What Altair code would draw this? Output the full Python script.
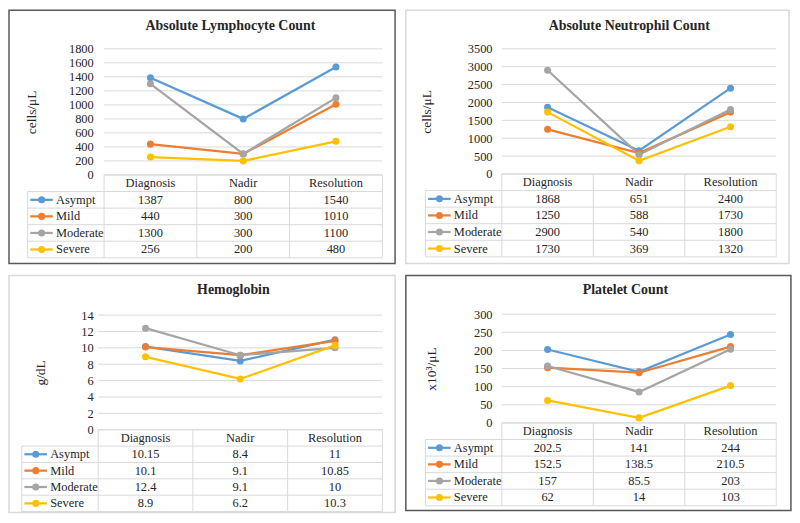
import altair as alt
import pandas as pd

# ---------------- data ----------------
categories = ["Diagnosis", "Nadir", "Resolution"]
groups = ["Asympt", "Mild", "Moderate", "Severe"]
group_colors = ["#5B9BD5", "#ED7D31", "#A5A5A5", "#FFC000"]

lymph_values = [[1387, 800, 1540], [440, 300, 1010], [1300, 300, 1100], [256, 200, 480]]
lymph_ticks = [0, 200, 400, 600, 800, 1000, 1200, 1400, 1600, 1800]

neut_values = [[1868, 651, 2400], [1250, 588, 1730], [2900, 540, 1800], [1730, 369, 1320]]
neut_ticks = [0, 500, 1000, 1500, 2000, 2500, 3000, 3500]

hgb_values = [[10.15, 8.4, 11], [10.1, 9.1, 10.85], [12.4, 9.1, 10], [8.9, 6.2, 10.3]]
hgb_ticks = [0, 2, 4, 6, 8, 10, 12, 14]

plt_values = [[202.5, 141, 244], [152.5, 138.5, 210.5], [157, 85.5, 203], [62, 14, 103]]
plt_ticks = [0, 50, 100, 150, 200, 250, 300]

panel_titles = ["Absolute Lymphocyte Count", "Absolute Neutrophil Count", "Hemoglobin", "Platelet Count"]
panel_units = ["cells/μL", "cells/μL", "g/dL", "x10³/μL"]

# ---------------- style / layout ----------------
FONT = "Liberation Serif, Times New Roman, DejaVu Serif, serif"
TEXT = "#262626"
GRID = "#D9D9D9"
DARK = "#595959"
SX = 784 / 796
SY = 0.968

LAYOUTS = [
    dict(W=394, H=263, x0=97, x3=381, leg=19, yt=40, yz=171, yb=257, tcx=226, tby=22.5, atx=23, lpad=11, border=DARK),
    dict(W=391, H=263, x0=98, x3=378, leg=20, yt=40, yz=170, yb=256, tcx=228, tby=23, atx=21, lpad=10, border=GRID),
    dict(W=394, H=246, x0=91, x3=381, leg=13, yt=41, yz=160, yb=245, tcx=229, tby=21, atx=32, lpad=5, border=GRID),
    dict(W=393, H=244, x0=98, x3=378, leg=20, yt=40, yz=153, yb=239, tcx=224, tby=21, atx=26, lpad=10, border=DARK),
]


def make_panel(title, unit, values, ticks, L):
    ncat = len(categories)
    nrow = len(groups) + 1
    colw = (L["x3"] - L["x0"]) / ncat

    def cu(px):
        return (px - L["x0"]) / colw

    xs = alt.Scale(domain=[cu(0), cu(L["W"])], nice=False, zero=False)
    vs = alt.Scale(domain=[0, ticks[-1]], range=[L["yz"] * SY, L["yt"] * SY], nice=False, zero=False)
    rs = alt.Scale(domain=[0, nrow], range=[L["yz"] * SY, L["yb"] * SY], nice=False, zero=False)
    cs = alt.Scale(domain=groups, range=group_colors)

    grid_df = pd.DataFrame({"tick": ticks, "a": 0, "b": ncat})
    recs = []
    for i, g in enumerate(groups):
        for j, c in enumerate(categories):
            v = values[i][j]
            recs.append({"group": g, "cat": c, "value": v, "col": j + 0.5,
                         "row": i + 1.5, "label": f"{v:g}"})
    df = pd.DataFrame(recs)
    head_df = pd.DataFrame({"cat": categories, "col": [j + 0.5 for j in range(ncat)], "row": 0.5})

    leg_left = cu(L["leg"])
    seg = []
    for k in range(ncat + 1):
        seg.append({"x": k, "x2": k, "y": 0, "y2": nrow})
    seg.append({"x": leg_left, "x2": leg_left, "y": 1, "y2": nrow})
    seg.append({"x": 0, "x2": ncat, "y": 0, "y2": 0})
    for r in range(1, nrow + 1):
        seg.append({"x": leg_left, "x2": ncat, "y": r, "y2": r})
    seg_df = pd.DataFrame(seg)

    leg_df = pd.DataFrame({"group": groups, "row": [i + 1.5 for i in range(len(groups))],
                           "l1": cu(L["leg"] + 2.7), "l2": cu(L["leg"] + 25.7),
                           "lc": cu(L["leg"] + 14.3), "lt": cu(L["leg"] + 29)})

    color = alt.Color("group:N", scale=cs, legend=None)

    yaxis = alt.Axis(values=ticks, title=unit, format="d", offset=-L["x0"] * SX, labelPadding=L["lpad"] * SX,
                     domain=False, ticks=False, tickSize=0, grid=False,
                     labelFont=FONT, labelFontSize=12.5, labelColor=TEXT,
                     labelOverlap=False, labelFlush=False,
                     titleFont=FONT, titleFontSize=13.5, titleFontWeight="normal", titleColor=TEXT,
                     titleX=(L["atx"] - L["x0"]) * SX, titleBaseline="middle", titleAlign="center")

    grid = alt.Chart(grid_df).mark_rule(color=GRID, strokeWidth=1).encode(
        x=alt.X("a:Q", scale=xs, axis=None), x2="b:Q",
        y=alt.Y("tick:Q", scale=vs, axis=yaxis))

    borders = alt.Chart(seg_df).mark_rule(color=GRID, strokeWidth=1).encode(
        x=alt.X("x:Q", scale=xs, axis=None), x2="x2:Q",
        y=alt.Y("y:Q", scale=rs, axis=None), y2="y2:Q")

    lines = alt.Chart(df).mark_line(strokeWidth=2.25).encode(
        x=alt.X("col:Q", scale=xs, axis=None),
        y=alt.Y("value:Q", scale=vs, axis=None), color=color)

    points = alt.Chart(df).mark_circle(size=50, opacity=1).encode(
        x=alt.X("col:Q", scale=xs, axis=None),
        y=alt.Y("value:Q", scale=vs, axis=None), color=color)

    leg_rule = alt.Chart(leg_df).mark_rule(strokeWidth=2.25).encode(
        x=alt.X("l1:Q", scale=xs, axis=None), x2="l2:Q",
        y=alt.Y("row:Q", scale=rs, axis=None), color=color)

    leg_pt = alt.Chart(leg_df).mark_circle(size=50, opacity=1).encode(
        x=alt.X("lc:Q", scale=xs, axis=None),
        y=alt.Y("row:Q", scale=rs, axis=None), color=color)

    head = alt.Chart(head_df).mark_text(font=FONT, fontSize=12.5, color=TEXT).encode(
        x=alt.X("col:Q", scale=xs, axis=None),
        y=alt.Y("row:Q", scale=rs, axis=None), text="cat:N")

    cells = alt.Chart(df).mark_text(font=FONT, fontSize=12.5, color=TEXT).encode(
        x=alt.X("col:Q", scale=xs, axis=None),
        y=alt.Y("row:Q", scale=rs, axis=None), text="label:N")

    leg_txt = alt.Chart(leg_df).mark_text(font=FONT, fontSize=12.5, color=TEXT, align="left").encode(
        x=alt.X("lt:Q", scale=xs, axis=None),
        y=alt.Y("row:Q", scale=rs, axis=None), text="group:N")

    return alt.layer(grid, borders, lines, points, leg_rule, leg_pt, head, cells, leg_txt).resolve_scale(
        y="independent"
    ).properties(
        width=L["W"] * SX,
        height=L["H"] * SY,
        title=alt.TitleParams(text=title, font=FONT, fontSize=14, fontWeight="bold", color=TEXT,
                              anchor="middle", frame="group", offset=-(L["tby"] * SY + 1),
                              dx=(L["tcx"] - L["W"] / 2) * SX),
        view=alt.ViewBackground(stroke=L["border"], strokeWidth=1.5, fill="white"),
    )


all_values = [lymph_values, neut_values, hgb_values, plt_values]
all_ticks = [lymph_ticks, neut_ticks, hgb_ticks, plt_ticks]
panels = [make_panel(panel_titles[k], panel_units[k], all_values[k], all_ticks[k], LAYOUTS[k])
          for k in range(4)]

chart = alt.vconcat(
    alt.hconcat(panels[0], panels[1], spacing=9 * SX),
    alt.hconcat(panels[2], panels[3], spacing=9 * SX),
    spacing=10 * SY,
).properties(padding=0, background="white").configure(font=FONT)

chart.save("out.html", embed_options={"renderer": "svg", "actions": False})
